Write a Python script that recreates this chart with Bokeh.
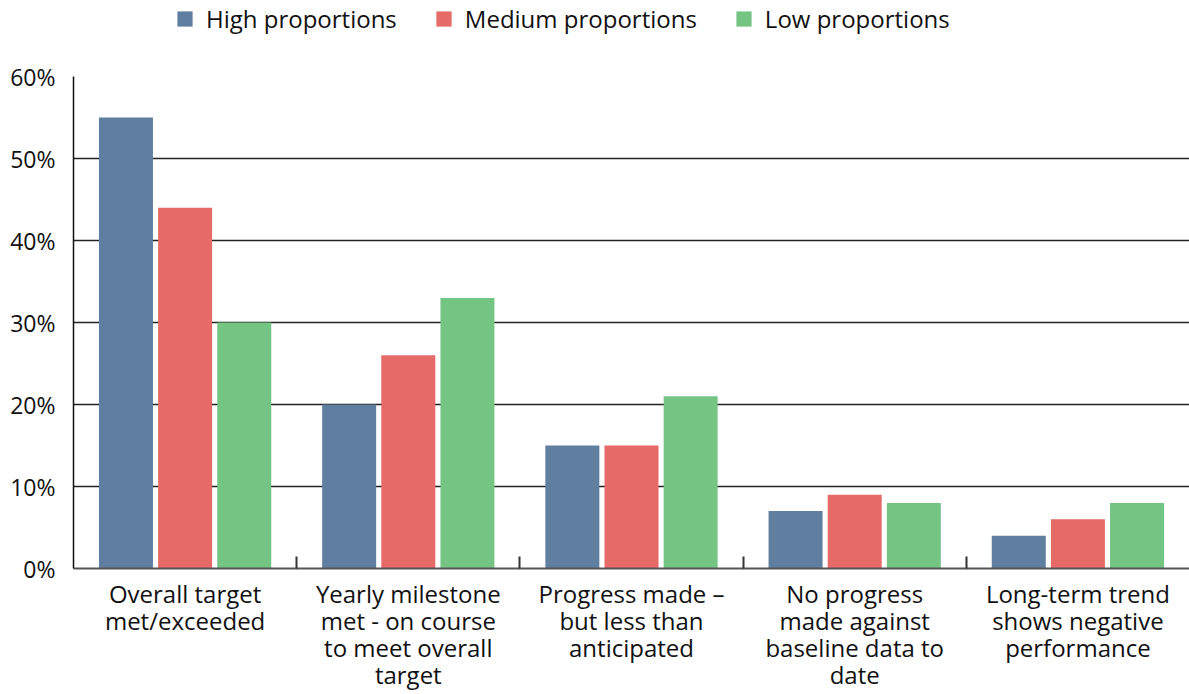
from bokeh.plotting import figure
from bokeh.layouts import column
from bokeh.models import (Range1d, FixedTicker, PrintfTickFormatter, Legend,
                          LegendItem, ColumnDataSource)
from bokeh.transform import dodge
from bokeh.embed import file_html
from bokeh.resources import INLINE

# Progress categories along the x axis
categories = [
    "Overall target\nmet/exceeded",
    "Yearly milestone\nmet - on course\nto meet overall\ntarget",
    "Progress made \u2013\nbut less than\nanticipated",
    "No progress\nmade against\nbaseline data to\ndate",
    "Long-term trend\nshows negative\nperformance",
]

# Share of indicators (%) per group
high_values = [55, 20, 15, 7, 4]
medium_values = [44, 26, 15, 9, 6]
low_values = [30, 33, 21, 8, 8]

series_names = ["High proportions", "Medium proportions", "Low proportions"]
series_fields = ["high", "medium", "low"]
series_colors = ["#5F7EA0", "#E66A68", "#74C584"]

y_ticks = [0, 10, 20, 30, 40, 50, 60]

FONT = "Open Sans"
TEXT_COLOR = "#111111"
WIDTH = 1189
LEGEND_H = 50
MAIN_H = 694 - LEGEND_H

positions = list(range(len(categories)))
source = ColumnDataSource(dict(
    pos=positions,
    high=high_values,
    medium=medium_values,
    low=low_values,
))

# ---- legend strip across the top ----
leg_fig = figure(width=WIDTH, height=LEGEND_H, x_range=Range1d(-0.5, 4.5),
                 y_range=Range1d(0, 60), output_backend="svg",
                 toolbar_location=None, x_axis_type=None, y_axis_type=None,
                 min_border=0)
leg_fig.outline_line_color = None
leg_fig.xgrid.visible = False
leg_fig.ygrid.visible = False
# hidden copies of the series, used only for their legend swatches
swatches = [leg_fig.vbar(x="pos", top=f, width=0.2, source=source,
                         fill_color=c, line_color=None, visible=False)
            for f, c in zip(series_fields, series_colors)]
legend = Legend(
    items=[LegendItem(label=n, renderers=[r]) for n, r in zip(series_names, swatches)],
    orientation="horizontal",
    location=(102, 15),
    glyph_width=19, glyph_height=19,
    label_standoff=12, spacing=37, padding=0, margin=0,
    label_text_font=FONT, label_text_font_size="24px",
    label_text_color=TEXT_COLOR,
    inactive_fill_alpha=0,
    border_line_color=None, background_fill_alpha=0,
)
leg_fig.add_layout(legend, "center")

# ---- grouped bar chart ----
p = figure(
    width=WIDTH, height=MAIN_H,
    x_range=Range1d(-0.5, len(categories) - 0.5),
    y_range=Range1d(0, 60),
    output_backend="svg",
    toolbar_location=None,
    min_border_left=73, min_border_right=0,
    min_border_top=76 - LEGEND_H, min_border_bottom=126,
)
p.outline_line_color = None

bar_width = 0.242
offsets = [-0.265, 0.0, 0.265]
for field, off, color in zip(series_fields, offsets, series_colors):
    p.vbar(x=dodge("pos", off, range=p.x_range), top=field, bottom=0,
           width=bar_width, source=source,
           fill_color=color, line_color=None)

# Gridlines
p.xgrid.grid_line_color = None
p.ygrid.grid_line_color = "#222222"
p.ygrid.grid_line_width = 1.5
p.ygrid.ticker = FixedTicker(ticks=y_ticks)

# Y axis
yax = p.yaxis[0]
yax.ticker = FixedTicker(ticks=y_ticks)
yax.formatter = PrintfTickFormatter(format="%d%%")
yax.axis_line_color = "#111111"
yax.axis_line_width = 1.5
yax.major_tick_in = 0
yax.major_tick_out = 0
yax.minor_tick_in = 0
yax.minor_tick_out = 0
yax.major_label_standoff = 18
yax.major_label_text_font = FONT
yax.major_label_text_font_size = "23px"
yax.major_label_text_color = TEXT_COLOR

# X axis: labels at group centres, short inner ticks between groups
xax = p.xaxis[0]
xax.ticker = FixedTicker(ticks=positions,
                         minor_ticks=[i + 0.5 for i in positions[:-1]])
xax.major_label_overrides = {i: lab for i, lab in zip(positions, categories)}
xax.axis_line_color = "#555555"
xax.axis_line_width = 2
xax.major_tick_in = 0
xax.major_tick_out = 0
xax.minor_tick_in = 12
xax.minor_tick_out = 0
xax.minor_tick_line_color = "#333333"
xax.minor_tick_line_width = 2
xax.major_label_standoff = 8
xax.major_label_text_font = FONT
xax.major_label_text_font_size = "24px"
xax.major_label_text_line_height = 0.825
xax.major_label_text_color = TEXT_COLOR

layout = column(leg_fig, p, spacing=0)
open("out.html", "w").write(file_html(layout, INLINE))
